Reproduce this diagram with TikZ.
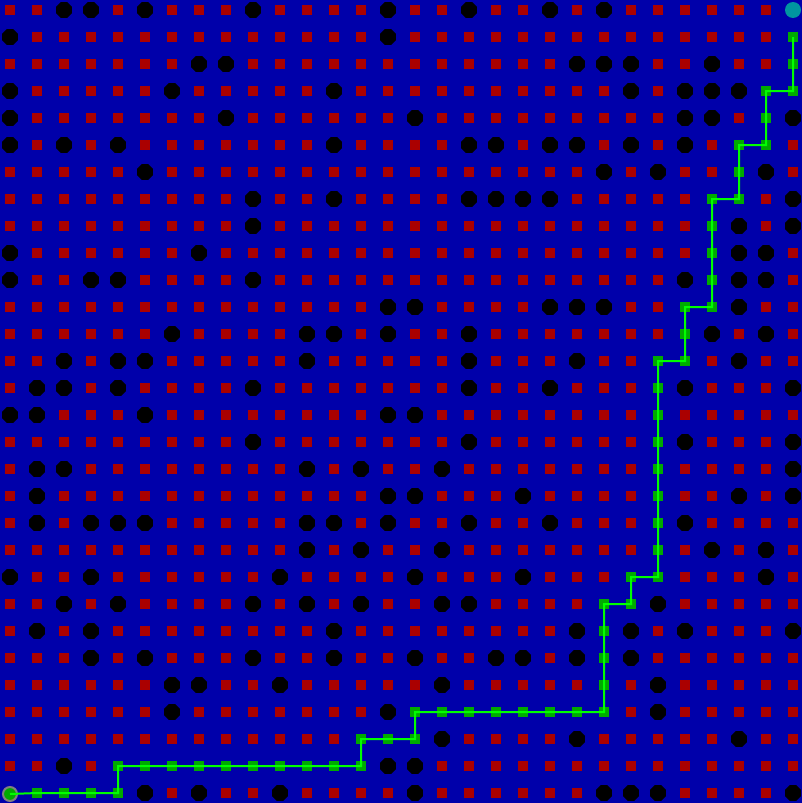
\documentclass[tikz,border=0pt]{standalone}
\usetikzlibrary{shapes.geometric}
\definecolor{bgblue}{RGB}{0,0,170}
\definecolor{cellred}{RGB}{170,0,0}
\definecolor{pathgreen}{RGB}{0,170,0}
\definecolor{linegreen}{RGB}{0,255,0}
\definecolor{goalteal}{RGB}{0,150,160}
\begin{document}
\begin{tikzpicture}[x=1pt, y=-1pt,
        cellbox/.style={fill=cellred, minimum size=10pt, inner sep=0pt},
        wallnode/.style={regular polygon, regular polygon sides=8, fill=black, minimum size=17pt, inner sep=0pt},
        pathbox/.style={fill=pathgreen, minimum size=10pt, inner sep=0pt},
        startnode/.style={circle, fill=pathgreen, draw=gray, line width=2pt, minimum size=14pt, inner sep=0pt},
        goalnode/.style={circle, fill=goalteal, minimum size=16pt, inner sep=0pt},
        pathline/.style={draw=linegreen, line width=2pt}]
    \fill[bgblue] (0,0) rectangle (802,803);
    \useasboundingbox (0,0) rectangle (802,803);
    % obstacles, row by row
    \foreach \row/\cols in {0/{2,3,5,9,14,17,20,22}, 1/{0,14}, 2/{7,8,21,22,23,26}, 3/{0,6,12,23,25,26,27},
        4/{0,8,15,25,26,29}, 5/{0,2,4,12,17,18,20,21,23,25}, 6/{5,22,24,28}, 7/{9,12,17,18,19,20,29},
        8/{9,27,29}, 9/{0,7,27,28}, 10/{0,3,4,9,25,27,28}, 11/{14,15,20,21,22,27},
        12/{6,11,12,14,17,26,28}, 13/{2,4,5,11,17,21,27}, 14/{1,2,4,9,17,20,25,29}, 15/{0,1,5,14,15},
        16/{9,17,25,29}, 17/{1,2,11,13,16,29}, 18/{1,14,15,19,27,29}, 19/{1,3,4,5,11,12,14,17,20,25},
        20/{11,13,16,26,28}, 21/{0,3,10,15,19,28}, 22/{2,4,9,11,13,16,17,24}, 23/{1,3,12,21,23,25,29},
        24/{3,5,9,12,15,18,19,21,23}, 25/{6,7,10,16,24}, 26/{6,14,24}, 27/{16,21,27}, 28/{2,14,15},
        29/{5,7,10,15,22,23,24,29}}
        \foreach \col in \cols {\expandafter\gdef\csname wall-\col-\row\endcsname{}};
    % start and goal
    \node[startnode] (start) at (10,794) {};
    \node[goalnode] (goal) at (793,10) {};
    \expandafter\gdef\csname seen-0-29\endcsname{}
    \expandafter\gdef\csname seen-29-0\endcsname{}
    % found path
    \foreach \col/\row [count=\i] in {1/29,2/29,3/29,4/29,4/28,5/28,6/28,7/28,8/28,9/28,10/28,11/28,12/28,13/28,
        13/27,14/27,15/27,15/26,16/26,17/26,18/26,19/26,20/26,21/26,22/26,22/25,22/24,22/23,22/22,23/22,
        23/21,24/21,24/20,24/19,24/18,24/17,24/16,24/15,24/14,24/13,25/13,25/12,25/11,26/11,26/10,26/9,
        26/8,26/7,27/7,27/6,27/5,28/5,28/4,28/3,29/3,29/2,29/1} {
        \node[pathbox] (p\i) at (10+27*\col, 10+27*\row) {};
        \expandafter\gdef\csname seen-\col-\row\endcsname{}
    }
    % grid
    \foreach \row in {0,...,29}
        \foreach \col in {0,...,29} {
            \ifcsname wall-\col-\row\endcsname
                \node[wallnode] (w-\col-\row) at (10+27*\col, 10+27*\row) {};
            \else\ifcsname seen-\col-\row\endcsname\else
                \node[cellbox] (c-\col-\row) at (10+27*\col, 10+27*\row) {};
            \fi\fi
        }
    \draw[pathline] (start.center) \foreach \i in {1,...,57} { -- (p\i.center) };
\end{tikzpicture}
\end{document}
